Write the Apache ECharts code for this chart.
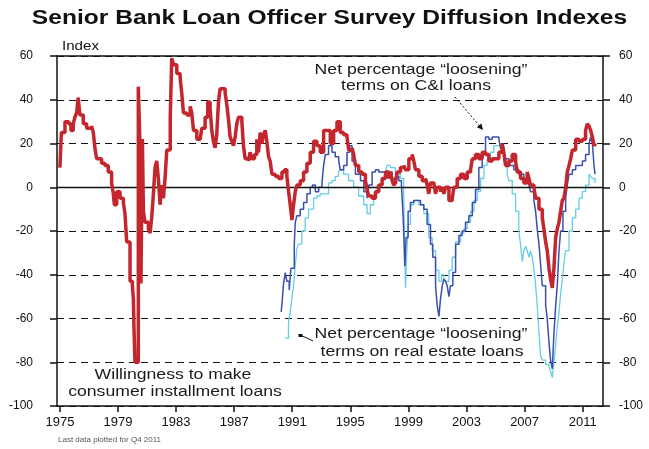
<!DOCTYPE html>
<html>
<head>
<meta charset="utf-8">
<script src="https://cdn.jsdelivr.net/npm/echarts@6/dist/echarts.min.js"></script>
<style>
html,body{margin:0;padding:0;background:#fff;}
#chart{width:649px;height:449px;}
</style>
</head>
<body>
<div id="chart"></div>
<script>
// ---- Data (decimal years, index values) ----
var xTickYears = [1975, 1979, 1983, 1987, 1991, 1995, 1999, 2003, 2007, 2011];
var yTicks = [-100, -80, -60, -40, -20, 0, 20, 40, 60];

var consumerDates = [1975.00,1975.10,1975.35,1975.60,1975.76,1975.92,1976.03,1976.15,1976.26,1976.38,1976.61,1976.84,1977.18,1977.30,1977.41,1977.53,1977.87,1978.10,1978.33,1978.56,1978.68,1978.75,1978.91,1979.14,1979.37,1979.48,1979.60,1979.83,1979.99,1980.06,1980.10,1980.17,1980.40,1980.50,1980.58,1980.68,1980.75,1980.86,1981.09,1981.21,1981.32,1981.44,1981.55,1981.67,1981.78,1981.90,1982.00,1982.13,1982.24,1982.36,1982.60,1982.70,1982.82,1983.05,1983.28,1983.39,1983.51,1983.74,1983.97,1984.08,1984.20,1984.43,1984.66,1984.77,1985.00,1985.18,1985.34,1985.46,1985.57,1985.69,1985.80,1985.92,1986.03,1986.15,1986.38,1986.49,1986.61,1986.72,1986.84,1986.95,1987.07,1987.18,1987.30,1987.41,1987.53,1987.64,1987.76,1987.99,1988.10,1988.22,1988.40,1988.56,1988.68,1988.79,1988.91,1989.02,1989.14,1989.25,1989.37,1989.48,1989.60,1989.83,1990.06,1990.29,1990.47,1990.63,1990.75,1990.86,1990.98,1991.09,1991.21,1991.32,1991.55,1991.78,1992.01,1992.24,1992.47,1992.70,1992.93,1993.16,1993.39,1993.62,1993.85,1994.08,1994.31,1994.54,1994.77,1994.89,1995.12,1995.23,1995.35,1995.58,1995.81,1996.04,1996.15,1996.27,1996.50,1996.73,1996.96,1997.19,1997.42,1997.65,1997.76,1997.88,1997.99,1998.11,1998.22,1998.45,1998.68,1998.80,1999.03,1999.26,1999.37,1999.49,1999.72,1999.95,2000.18,2000.29,2000.40,2000.52,2000.75,2000.87,2000.98,2001.21,2001.33,2001.44,2001.56,2001.79,2002.02,2002.13,2002.36,2002.59,2002.82,2003.05,2003.28,2003.40,2003.62,2003.85,2004.08,2004.31,2004.54,2004.77,2005.00,2005.23,2005.46,2005.57,2005.69,2005.92,2006.15,2006.38,2006.49,2006.72,2006.95,2007.18,2007.30,2007.41,2007.64,2007.76,2007.99,2008.22,2008.33,2008.45,2008.56,2008.68,2008.79,2008.91,2009.02,2009.14,2009.25,2009.37,2009.48,2009.60,2009.71,2009.83,2009.94,2010.06,2010.17,2010.29,2010.52,2010.75,2010.98,2011.20,2011.32,2011.44,2011.55,2011.67,2011.78,2011.90];
var consumerValues = [9,25,30,29,26,29,32,34,41,33,29,27,28,25,18,13,11,10,7,2,-3,-8,-2,-5,-7,-12,-25,-43,-45,-51,-64,-80,46,22,-44,22,-11,-16,-19,-21,-14,-3,9,12,4,-8,1,-5,4,17,32,59,56,52,50,43,34,33,37,34,26,22,22,27,32,39,36,26,21,18,24,39,45,45,43,38,31,23,21,19,23,29,32,32,30,19,13,12,16,13,15,22,16,25,20,24,26,21,14,12,6,5,4,7,8,5,-2,-8,-15,-8,-2,1,3,7,11,16,21,19,16,26,26,20,26,30,25,24,23,17,18,15,10,7,6,3,-1,-4,-5,-2,1,4,7,4,7,3,1,2,7,9,10,8,13,15,12,8,5,3,4,1,-3,2,2,-3,0,-2,0,-3,0,-6,-5,0,4,6,4,7,8,13,15,13,16,15,12,13,13,16,20,16,10,12,15,12,7,4,2,7,4,1,0,-5,-10,-14,-19,-25,-29,-37,-42,-46,-37,-23,-19,-16,-11,-6,-5,0,7,10,13,17,22,21,22,26,29,28,26,23,19,20];

var ciDates = [1990.24,1990.32,1990.40,1990.52,1990.63,1990.79,1990.91,1991.02,1991.14,1991.21,1991.32,1991.55,1991.78,1992.01,1992.24,1992.40,1992.59,1992.82,1993.05,1993.16,1993.28,1993.50,1993.74,1993.96,1994.20,1994.31,1994.54,1994.77,1994.95,1995.12,1995.35,1995.70,1995.93,1996.15,1996.27,1996.50,1996.73,1996.96,1997.19,1997.42,1997.65,1997.88,1998.11,1998.34,1998.52,1998.64,1998.75,1998.84,1998.98,1999.14,1999.37,1999.60,1999.83,2000.06,2000.29,2000.52,2000.68,2000.87,2000.98,2001.10,2001.21,2001.33,2001.44,2001.56,2001.67,2001.79,2001.90,2002.06,2002.25,2002.48,2002.70,2002.93,2003.16,2003.40,2003.62,2003.85,2004.08,2004.31,2004.54,2004.77,2005.00,2005.23,2005.34,2005.57,2005.92,2006.26,2006.60,2006.95,2007.30,2007.41,2007.64,2007.76,2007.87,2007.99,2008.10,2008.22,2008.45,2008.56,2008.68,2008.79,2008.91,2009.02,2009.14,2009.25,2009.37,2009.48,2009.64,2009.83,2009.94,2010.06,2010.29,2010.52,2010.75,2010.98,2011.20,2011.44,2011.55,2011.67,2011.78,2011.85];
var ciValues = [-57,-51,-44,-39,-43,-47,-37,-37,-26,-16,-13,-10,-7,-3,0,1,-2,0,2,10,15,19,16,14,12,8,10,16,19,12,6,3,-2,-5,1,7,8,7,7,7,7,4,5,3,1,-14,-36,-23,-11,-7,-6,-6,-8,-10,-17,-26,-32,-45,-54,-59,-51,-45,-42,-43,-45,-50,-45,-39,-26,-22,-20,-16,-13,-7,-1,9,15,23,22,23,23,22,18,13,10,8,6,2,1,-2,-6,-11,-19,-26,-35,-45,-54,-60,-71,-79,-83,-67,-54,-45,-29,-20,-11,-5,1,6,8,10,10,12,15,20,23,20,10,6];

var reDates = [1990.51,1990.74,1990.86,1990.97,1991.09,1991.20,1991.32,1991.44,1991.66,1991.89,1992.12,1992.47,1992.70,1992.93,1993.16,1993.50,1993.73,1993.96,1994.19,1994.30,1994.54,1994.88,1995.23,1995.57,1995.92,1996.15,1996.38,1996.61,1996.84,1997.18,1997.41,1997.53,1997.76,1998.10,1998.45,1998.67,1998.80,1998.87,1998.98,1999.14,1999.37,1999.72,2000.06,2000.40,2000.64,2000.87,2001.10,2001.28,2001.44,2001.56,2001.79,2002.02,2002.25,2002.59,2002.82,2003.05,2003.28,2003.51,2003.74,2003.97,2004.20,2004.42,2004.65,2004.88,2005.11,2005.34,2005.57,2005.80,2005.92,2006.15,2006.38,2006.60,2006.72,2006.84,2006.95,2007.07,2007.18,2007.30,2007.41,2007.53,2007.64,2007.76,2007.87,2007.99,2008.10,2008.22,2008.45,2008.68,2008.79,2008.91,2009.02,2009.14,2009.25,2009.37,2009.48,2009.60,2009.71,2009.83,2010.06,2010.29,2010.52,2010.75,2010.98,2011.20,2011.44,2011.55,2011.67,2011.85];
var reValues = [-69,-62,-57,-51,-45,-36,-28,-26,-20,-14,-10,-5,-4,-3,-3,2,3,5,7,8,6,3,0,-4,-8,-12,-8,-3,1,4,7,10,9,6,4,-2,-46,-32,-17,-8,-6,-8,-12,-23,-29,-38,-43,-40,-42,-43,-38,-32,-25,-21,-19,-16,-11,-6,-2,4,10,13,16,19,19,16,12,6,3,-3,-11,-20,-26,-34,-29,-27,-29,-32,-29,-32,-37,-45,-54,-66,-77,-79,-81,-82,-84,-87,-80,-72,-64,-57,-49,-42,-35,-29,-20,-14,-10,-5,-2,1,6,5,4,2];

function pairs(d, v) { return d.map(function (x, i) { return [x, v[i]]; }); }

var FONT = 'Liberation Sans, Arial, sans-serif';
var STRETCH = 1.26;

function txt(x, y, text, size, opts) {
  opts = opts || {};
  return {
    type: 'text', x: x, y: y, scaleX: opts.scaleX || STRETCH, scaleY: 1, z: 100,
    style: {
      text: text, fill: opts.color || '#111',
      font: (opts.weight || 'normal') + ' ' + size + 'px ' + FONT,
      textAlign: opts.align || 'center', textVerticalAlign: 'middle',
      align: opts.align || 'center', verticalAlign: 'middle'
    }
  };
}

var chart = echarts.init(document.getElementById('chart'), null, { renderer: 'canvas' });

var axisLineStyle = { color: '#111', width: 1.5 };

var option = {
  animation: false,
  backgroundColor: '#fff',
  grid: { left: 57, right: 46, top: 56, bottom: 43, containLabel: false },
  xAxis: [{
    type: 'value', min: 1974.8, max: 2012.4, position: 'bottom',
    axisLine: { show: true, onZero: false, lineStyle: axisLineStyle },
    axisTick: { show: true, inside: false, length: 6, customValues: xTickYears, lineStyle: axisLineStyle },
    axisLabel: { show: true, customValues: xTickYears, margin: 10, fontSize: 13, color: '#111', fontFamily: FONT, formatter: function (v) { return String(Math.round(v)); } },
    splitLine: { show: false }
  }, {
    type: 'value', min: 1974.8, max: 2012.4, position: 'top',
    axisLine: { show: true, onZero: false, lineStyle: axisLineStyle },
    axisTick: { show: false }, axisLabel: { show: false }, splitLine: { show: false }
  }],
  yAxis: [{
    type: 'value', min: -100, max: 60, interval: 20, position: 'left',
    axisLine: { show: true, onZero: false, lineStyle: axisLineStyle },
    axisTick: { show: true, inside: false, length: 7, lineStyle: axisLineStyle },
    axisLabel: { margin: 24, fontSize: 12, color: '#111', fontFamily: FONT },
    splitLine: { show: true, lineStyle: { color: '#111', width: 1, type: [7, 5] } }
  }, {
    type: 'value', min: -100, max: 60, interval: 20, position: 'right',
    axisLine: { show: true, onZero: false, lineStyle: axisLineStyle },
    axisTick: { show: true, inside: false, length: 7, lineStyle: axisLineStyle },
    axisLabel: { margin: 16, fontSize: 12, color: '#111', fontFamily: FONT },
    splitLine: { show: false }
  }],
  series: [{
    name: 'Real estate loans', type: 'line', xAxisIndex: 0, yAxisIndex: 0,
    data: pairs(reDates, reValues), step: 'end', showSymbol: false, z: 3,
    lineStyle: { color: '#66cde6', width: 1.3 },
    markLine: {
      silent: true, symbol: 'none', label: { show: false },
      lineStyle: { color: '#111', width: 1.3, type: 'solid' },
      data: [{ yAxis: 0 }]
    }
  }, {
    name: 'C&I loans', type: 'line', xAxisIndex: 0, yAxisIndex: 0,
    data: pairs(ciDates, ciValues), step: 'end', showSymbol: false, z: 4,
    lineStyle: { color: '#3a4fae', width: 1.5 }
  }, {
    name: 'Consumer installment', type: 'line', xAxisIndex: 0, yAxisIndex: 0,
    data: pairs(consumerDates, consumerValues), step: 'end', showSymbol: false, z: 5,
    lineStyle: { color: '#c3262d', width: 3.5 }
  }],
  graphic: [
    txt(329.5, 19, 'Senior Bank Loan Officer Survey Diffusion Indexes', 19.5, { weight: 'bold' }),
    txt(62, 47, 'Index', 12, { align: 'left' }),
    txt(421, 70, 'Net percentage \u201cloosening\u201d', 14, { color: '#1a1a1a' }),
    txt(416, 86, 'terms on C&I loans', 14, { color: '#1a1a1a' }),
    txt(421, 334, 'Net percentage \u201cloosening\u201d', 14, { color: '#1a1a1a' }),
    txt(422, 352, 'terms on real estate loans', 14, { color: '#1a1a1a' }),
    txt(173, 375, 'Willingness to make', 14, { color: '#1a1a1a' }),
    txt(175, 392, 'consumer installment loans', 14, { color: '#1a1a1a' }),
    txt(58, 440, 'Last data plotted for Q4 2011', 8, { align: 'left', color: '#555', scaleX: 1.0 }),
    { type: 'line', z: 100, shape: { x1: 455, y1: 97, x2: 480, y2: 126.5 }, style: { stroke: '#111', lineWidth: 1, lineDash: [2, 2] } },
    { type: 'polygon', z: 100, shape: { points: [[483, 130], [476.8, 127.3], [481.4, 123.5]] }, style: { fill: '#111' } },
    { type: 'polyline', z: 100, shape: { points: [[313, 341], [307, 338], [302, 336]] }, style: { stroke: '#111', lineWidth: 1, fill: null } },
    { type: 'rect', z: 100, shape: { x: 298.5, y: 334, width: 4, height: 3 }, style: { fill: '#111' } }
  ]
};

chart.setOption(option);
</script>
</body>
</html>
